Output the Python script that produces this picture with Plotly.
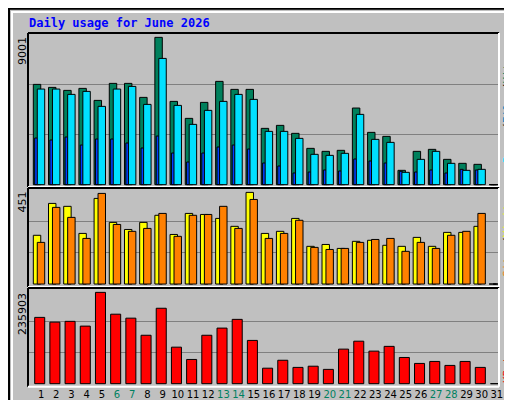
import plotly.graph_objects as go

days = list(range(1, 32))
hits = [5990,5811,5632,5751,5035,6050,6050,5214,8800,4975,3960,4915,6169,5691,5691,3363,3542,3065,2169,1990,2050,4577,3124,2885,856,1990,2109,1512,1274,1214,0]
files = [5711,5711,5393,5572,4677,5711,5870,4796,7542,4736,3602,4438,4975,5393,5094,3184,3184,2766,1811,1751,1871,4199,2706,2527,736,1512,1990,1274,856,915,0]
pages = [2786,2667,2846,2368,2726,2726,2488,2189,2905,1890,1353,1890,2249,2368,2129,1293,1114,697,756,876,816,1532,1413,1293,796,756,876,697,915,876,0]
visits = [234,387,373,243,411,296,262,296,330,238,339,334,315,277,440,243,253,315,181,190,171,205,210,186,181,224,181,248,248,277,0]
sites = [200,368,320,219,435,286,253,267,339,229,330,334,373,267,406,219,243,306,176,166,171,200,214,219,157,200,171,234,253,339,0]
kbytes = [167000,155000,157000,145000,230000,175000,165000,122000,190000,92000,61000,122000,140000,162000,109000,39000,59000,41000,44000,36000,87000,107000,82000,94000,66000,51000,56000,46000,56000,41000,0]
weekend = [6,7,13,14,20,21,27,28]
max_hits, max_visits, max_kb = "9001", "451", "235903"

BG = "#c0c0c0"
line = dict(color="black", width=1)
fig = go.Figure()
def bar(y, color, off, w, ax):
    fig.add_trace(go.Bar(x=days, y=y, offset=off, width=w, marker=dict(color=color, line=line),
                         xaxis=ax[0], yaxis=ax[1], showlegend=False, hoverinfo="skip"))
bar(hits, "#00805c", -0.51, 0.49, ("x", "y"))
bar(pages, "#0040ff", -0.42, 0.2, ("x", "y"))
bar(files, "#00e0ff", -0.25, 0.49, ("x", "y"))
bar(visits, "#ffff00", -0.51, 0.49, ("x2", "y2"))
bar(sites, "#ff8000", -0.25, 0.49, ("x2", "y2"))
bar(kbytes, "#ff0000", -0.42, 0.66, ("x3", "y3"))

xr = [0.14, 31.14]
xd = [20/512, 491/512]
common_y = dict(showticklabels=False, gridcolor="#808080", gridwidth=1, zeroline=False, fixedrange=True, automargin=False)
ticktext = [f'<span style="color:{"#008060" if d in weekend else "black"}">{d}</span>' for d in days]
fig.update_layout(
    width=512, height=400, margin=dict(l=0, r=0, t=0, b=0, autoexpand=False),
    paper_bgcolor=BG, plot_bgcolor=BG, barmode="overlay",
    font=dict(family="DejaVu Sans Mono", size=11, color="black"),
    xaxis=dict(domain=xd, range=xr, anchor="y", showticklabels=False, showgrid=False, automargin=False),
    xaxis2=dict(domain=xd, range=xr, anchor="y2", showticklabels=False, showgrid=False, automargin=False),
    xaxis3=dict(domain=xd, range=xr, anchor="y3", showgrid=False, tickvals=days, ticktext=ticktext,
                ticks="", tickangle=0, automargin=False, tickfont=dict(family="DejaVu Sans", size=10)),
    yaxis=dict(domain=[1-179/400, 1-25/400], range=[-140, 9060], tickvals=[3000, 6000], **common_y),
    yaxis2=dict(domain=[1-280/400, 1-180/400], range=[-19, 461], tickvals=[150, 300], **common_y),
    yaxis3=dict(domain=[1-378.7/400, 1-280/400], range=[-7600, 241000], tickvals=[78600, 157300], **common_y),
)
shapes = []
shapes.append(dict(type="rect", xref="paper", yref="paper", x0=0.002, x1=0.998, y0=0.002, y1=0.998,
                   line=dict(color="black", width=2)))
shapes.append(dict(type="rect", xref="paper", yref="paper", x0=4/512, x1=505/512, y0=1-395/400, y1=1-4/400,
                   line=dict(color="white", width=2)))
shapes.append(dict(type="rect", xref="paper", yref="paper", x0=505/512, x1=509/512, y0=1-397/400, y1=1-6/400,
                   fillcolor="#808080", line=dict(width=0)))
shapes.append(dict(type="rect", xref="paper", yref="paper", x0=6/512, x1=509/512, y0=1-397/400, y1=1-394/400,
                   fillcolor="#808080", line=dict(width=0)))
for top, bot in [(25, 179), (180, 279), (280, 378.7)]:
    x0, x1 = 20/512, 491/512
    y0, y1 = 1-bot/400, 1-top/400
    shapes.append(dict(type="line", xref="paper", yref="paper", x0=x0, x1=x1, y0=y1, y1=y1, line=dict(color="black", width=2)))
    shapes.append(dict(type="line", xref="paper", yref="paper", x0=x0, x1=x0, y0=y0, y1=y1, line=dict(color="black", width=2)))
    shapes.append(dict(type="line", xref="paper", yref="paper", x0=x0, x1=x1, y0=y0, y1=y0, line=dict(color="white", width=2)))
    shapes.append(dict(type="line", xref="paper", yref="paper", x0=x1, x1=x1, y0=y0, y1=y1, line=dict(color="white", width=2)))
fig.update_layout(shapes=shapes)

ann = []
ann.append(dict(text="<b>Daily usage for June 2026</b>", x=19/512, y=1-15/400, xref="paper", yref="paper",
                xanchor="left", yanchor="middle", showarrow=False,
                font=dict(family="DejaVu Sans Mono", size=12, color="#0000ff")))
for lab, top in [(max_hits, 27), (max_visits, 182), (max_kb, 283)]:
    ann.append(dict(text=lab, x=14/512, y=1-top/400, xref="paper", yref="paper", xanchor="center", yanchor="top",
                    textangle=-90, showarrow=False, font=dict(family="DejaVu Sans", size=11)))
sl = '<span style="color:black">/</span>'
right = [
    (f'<span style="color:#00e0ff">Pages</span>{sl}<span style="color:#0080c0">Files</span>{sl}<span style="color:#008060">Hits</span>', 102),
    (f'<span style="color:#ff8000">Sites</span>{sl}<span style="color:#ffff00">Visits</span>', 229),
    ('<span style="color:#ff0000">KBytes</span>', 355),
]
for t, yc in right:
    ann.append(dict(text=t, x=499/512, y=1-yc/400, xref="paper", yref="paper", xanchor="center", yanchor="middle",
                    textangle=-90, showarrow=False, font=dict(family="DejaVu Sans Mono", size=11)))
fig.update_layout(annotations=ann)
fig.write_html("out.html")
